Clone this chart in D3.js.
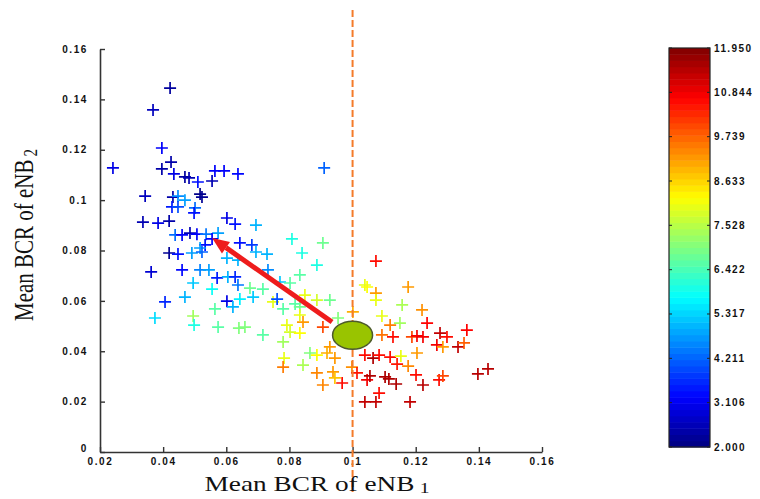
<!DOCTYPE html>
<html>
<head>
<meta charset="utf-8">
<script src="https://cdn.jsdelivr.net/npm/d3@7"></script>
<style>
  html, body { margin: 0; padding: 0; background: #ffffff; }
  svg { display: block; }
</style>
</head>
<body>
<svg id="chart" width="760" height="499"></svg>
<script>
// ---------------- data ----------------
const bcr1 = [0.0422,0.0368,0.0396,0.0241,0.0425,0.0396,0.0434,0.0469,0.0482,0.0510,0.0555,0.0564,0.0593,0.0637,0.0910,
  0.0343,0.0431,0.0447,0.0469,0.0517,0.0523,0.0428,0.0447,0.0501,0.0498,0.0336,0.0384,0.0419,0.0602,0.0628,0.0694,0.0808,
  0.0438,0.0460,0.0485,0.0507,0.0536,0.0574,0.0555,0.0533,0.0517,0.0419,0.0447,0.0491,0.0523,0.0643,0.0681,0.0694,0.0729,
  0.0602,0.0637,0.0362,0.0460,0.0517,0.0545,0.0571,0.0605,0.0628,0.0732,0.0495,0.0555,0.0637,0.0675,0.0716,0.0770,0.0802,
  0.0406,0.0469,0.0602,0.0621,0.0643,0.0685,0.0748,0.0761,0.0780,0.0818,0.0564,0.0374,0.0495,0.0498,0.0574,0.0640,0.0659,
  0.0716,0.0792,0.0802,0.0906,0.0840,0.0887,0.0833,0.0849,0.0887,0.0928,0.0833,0.0833,0.0843,0.0906,0.0954,0.1001,0.1039,
  0.0833,0.0780,0.0928,0.0865,0.0887,0.0919,0.0944,0.0783,0.0780,0.0843,0.0998,0.1014,0.1039,0.0887,0.0938,0.0944,0.0967,
  0.0906,0.1046,0.1074,0.1046,0.1074,0.1074,0.1176,0.1157,0.1220,0.1093,0.1119,0.1150,0.1236,0.1093,0.1128,0.1188,0.1204,
  0.1223,0.1277,0.1299,0.1267,0.1286,0.1334,0.1353,0.1362,0.1065,0.1084,0.1119,0.1153,0.1141,0.1204,0.1176,0.1055,0.1103,
  0.1115,0.1138,0.1201,0.1223,0.1274,0.1286,0.1397,0.1429,0.1084,0.1039,0.1074,0.1182];
const bcr2 = [0.1445,0.1358,0.1207,0.1128,0.1151,0.1124,0.1104,0.1092,0.1088,0.1072,0.1076,0.1116,0.1116,0.1104,0.1128,
  0.1016,0.1012,0.1016,0.1000,0.1024,0.1012,0.0973,0.0973,0.0969,0.0949,0.0913,0.0909,0.0917,0.0929,0.0905,0.0901,0.0846,
  0.0862,0.0862,0.0869,0.0865,0.0865,0.0869,0.0846,0.0822,0.0810,0.0790,0.0786,0.0790,0.0794,0.0830,0.0822,0.0794,0.0786,
  0.0770,0.0762,0.0715,0.0723,0.0723,0.0723,0.0691,0.0695,0.0695,0.0723,0.0671,0.0647,0.0663,0.0651,0.0647,0.0675,0.0671,
  0.0596,0.0615,0.0599,0.0576,0.0607,0.0615,0.0596,0.0607,0.0568,0.0588,0.0568,0.0532,0.0540,0.0504,0.0496,0.0492,0.0496,
  0.0465,0.0504,0.0476,0.0830,0.0790,0.0742,0.0703,0.0623,0.0603,0.0603,0.0576,0.0544,0.0516,0.0496,0.0532,0.0556,0.0663,
  0.0472,0.0437,0.0417,0.0393,0.0385,0.0393,0.0373,0.0373,0.0337,0.0345,0.0337,0.0314,0.0385,0.0314,0.0318,0.0294,0.0274,
  0.0266,0.0286,0.0758,0.0655,0.0631,0.0603,0.0655,0.0584,0.0564,0.0540,0.0504,0.0512,0.0512,0.0465,0.0457,0.0457,0.0461,
  0.0457,0.0472,0.0457,0.0425,0.0417,0.0417,0.0433,0.0484,0.0373,0.0385,0.0377,0.0381,0.0349,0.0393,0.0341,0.0302,0.0298,
  0.0290,0.0270,0.0306,0.0266,0.0286,0.0302,0.0310,0.0330,0.0234,0.0199,0.0199,0.0199];
const colourValue = [2.3,2.6,3.2,3.0,2.4,2.4,3.0,2.3,2.5,3.4,2.5,3.2,3.2,3.3,4.2,
  2.6,2.4,4.6,4.8,2.1,2.2,3.5,4.0,4.3,3.4,2.5,3.0,2.4,3.0,3.4,5.0,6.0,
  4.3,3.2,2.5,3.2,4.4,4.8,3.2,3.4,4.8,2.2,3.4,4.8,4.2,3.4,3.8,5.0,5.0,
  5.0,5.0,2.8,3.3,4.5,4.8,3.5,5.0,3.6,4.6,5.2,5.8,4.4,6.8,6.6,5.2,6.6,
  3.6,5.0,3.0,5.0,5.6,5.2,8.0,4.0,6.6,6.6,6.6,5.4,7.3,6.0,6.6,7.0,7.0,
  6.6,8.0,7.8,6.8,6.0,6.0,6.6,8.0,7.8,6.8,6.8,8.0,9.2,10.0,7.0,9.0,8.0,
  8.2,7.3,9.2,7.0,8.2,9.0,9.2,8.0,9.5,7.4,9.3,10.5,10.6,9.4,9.2,8.8,10.6,
  9.4,10.8,10.6,8.2,9.2,8.0,9.2,7.4,9.3,8.0,9.5,7.3,10.7,9.6,10.6,10.0,10.8,
  10.8,11.3,10.6,10.8,9.2,11.3,9.8,10.7,11.5,10.6,10.6,8.0,10.5,9.2,9.4,11.5,11.5,
  11.5,11.5,10.6,11.4,10.6,10.0,11.4,11.4,10.6,11.3,11.3,11.3];

const xTicks = [0.02,0.04,0.06,0.08,0.1,0.12,0.14,0.16];
const yTicks = [0,0.02,0.04,0.06,0.08,0.1,0.12,0.14,0.16];
const colourTicks = [2.000,3.106,4.211,5.317,6.422,7.528,8.633,9.739,10.844,11.950];
const colourRange = [2.0, 11.95];
const referenceBCR1 = 0.1;
const operatingPoint = [0.1, 0.0464];
const arrowFrom = [0.0935, 0.0516];
const arrowTo = [0.0555, 0.0850];
const axisTitle = "Mean BCR of eNB";

// ---------------- helpers ----------------
function jet(t) {
  t = Math.max(0, Math.min(1, t));
  const c = v => Math.round(255 * Math.max(0, Math.min(1, v)));
  return `rgb(${c(1.5 - Math.abs(4*t - 3))},${c(1.5 - Math.abs(4*t - 2))},${c(1.5 - Math.abs(4*t - 1))})`;
}

const svg = d3.select("#chart");
const x = d3.scaleLinear().domain([0.02, 0.16]).range([100, 542]);
const y = d3.scaleLinear().domain([0, 0.16]).range([452, 49]);
const cNorm = d3.scaleLinear().domain(colourRange).range([0, 1]).clamp(true);
const colour = v => jet(cNorm(v));

const tickFmt = d3.format("~g");
const axisStyle = g => {
  g.select(".domain").attr("stroke", "#333").attr("stroke-width", 1.6);
  g.selectAll(".tick line").attr("stroke", "#333").attr("stroke-width", 1.4);
  g.selectAll(".tick text")
    .attr("fill", "#111")
    .style("font-family", "'Liberation Sans', Arial, sans-serif")
    .style("font-weight", "bold")
    .style("font-size", "10px")
    .style("letter-spacing", "1.6px");
};

// ---------------- points ----------------
const pts = bcr1.map((d, i) => ({x: d, y: bcr2[i], v: colourValue[i]}));
svg.append("g").selectAll("path").data(pts).join("path")
  .attr("transform", d => `translate(${x(d.x)},${y(d.y)})`)
  .attr("d", "M-6,0H6M0,-6V6")
  .attr("stroke", d => colour(d.v))
  .attr("stroke-width", 1.7)
  .attr("fill", "none");

// ---------------- axes ----------------
svg.append("g").attr("transform", "translate(0,452)")
  .call(d3.axisBottom(x).tickValues(xTicks).tickFormat(tickFmt).tickSizeInner(-5).tickSizeOuter(0).tickPadding(6))
  .call(axisStyle);
svg.append("g").attr("transform", "translate(100,0)")
  .call(d3.axisLeft(y).tickValues(yTicks).tickFormat(tickFmt).tickSizeInner(-5).tickSizeOuter(0).tickPadding(12))
  .call(axisStyle)
  .call(g => g.selectAll(".tick").filter(d => d === 0).select("text").attr("dy", "-0.1em"));

// ---------------- reference line ----------------
svg.append("line")
  .attr("x1", x(referenceBCR1)).attr("x2", x(referenceBCR1))
  .attr("y1", 10).attr("y2", 492)
  .attr("stroke", "#f47b2a").attr("stroke-width", 2)
  .attr("stroke-dasharray", "7,3");

// ---------------- arrow ----------------
(function () {
  const x0 = x(arrowFrom[0]), y0 = y(arrowFrom[1]);
  const x1 = x(arrowTo[0]), y1 = y(arrowTo[1]);
  const ang = Math.atan2(y1 - y0, x1 - x0);
  const L = 17, W = 7;
  const bx = x1 - L * Math.cos(ang), by = y1 - L * Math.sin(ang);
  svg.append("line").attr("x1", x0).attr("y1", y0).attr("x2", bx).attr("y2", by)
    .attr("stroke", "#ee1c1c").attr("stroke-width", 5).attr("stroke-linecap", "butt");
  const px = -Math.sin(ang), py = Math.cos(ang);
  svg.append("path")
    .attr("d", `M${x1},${y1}L${bx + W*px},${by + W*py}L${bx - W*px},${by - W*py}Z`)
    .attr("fill", "#ee1c1c");
})();

// ---------------- operating point ----------------
svg.append("ellipse")
  .attr("cx", x(operatingPoint[0])).attr("cy", y(operatingPoint[1]))
  .attr("rx", 20).attr("ry", 14)
  .attr("fill", "#99c400").attr("stroke", "#4d5a2c").attr("stroke-width", 1.5);

// ---------------- axis titles ----------------
const serif = "'Liberation Serif', 'Times New Roman', serif";
const xt = svg.append("text")
  .attr("transform", "translate(317,491) scale(1.3,1)")
  .attr("text-anchor", "middle")
  .style("font-family", serif).style("font-size", "21px").attr("fill", "#111");
xt.append("tspan").text(axisTitle);
xt.append("tspan").attr("dx", 4).attr("dy", 2).style("font-size", "15px").text("1");

const yt = svg.append("text")
  .attr("transform", "translate(33,235) scale(1.3,1) rotate(-90)")
  .attr("text-anchor", "middle")
  .style("font-family", serif).style("font-size", "21px").attr("fill", "#111");
yt.append("tspan").text(axisTitle);
yt.append("tspan").attr("dx", 3).attr("dy", 3).style("font-size", "15px").text("2");

// ---------------- colour bar ----------------
const cbX = 669, cbW = 41;
const cy = d3.scaleLinear().domain(colourRange).range([447, 48]);
const nBands = 64;
const bands = d3.range(nBands).map(i => colourRange[0] + (colourRange[1] - colourRange[0]) * i / nBands);
const step = (colourRange[1] - colourRange[0]) / nBands;
svg.append("g").selectAll("rect").data(bands).join("rect")
  .attr("x", cbX).attr("width", cbW)
  .attr("y", d => cy(d + step))
  .attr("height", d => cy(d) - cy(d + step) + 0.5)
  .attr("fill", d => colour(d + step / 2));
svg.append("rect").attr("x", cbX).attr("y", cy(colourRange[1])).attr("width", cbW)
  .attr("height", cy(colourRange[0]) - cy(colourRange[1]))
  .attr("fill", "none").attr("stroke", "#222").attr("stroke-width", 1.2);
const cbTicks = svg.append("g");
colourTicks.forEach(t => {
  const yy = cy(t);
  cbTicks.append("line").attr("x1", cbX).attr("x2", cbX + 3).attr("y1", yy).attr("y2", yy).attr("stroke", "#222");
  cbTicks.append("line").attr("x1", cbX + cbW - 3).attr("x2", cbX + cbW).attr("y1", yy).attr("y2", yy).attr("stroke", "#222");
  cbTicks.append("text").attr("x", 714).attr("y", yy).attr("dy", "0.35em")
    .style("font-family", "'Liberation Sans', Arial, sans-serif")
    .style("font-weight", "bold").style("font-size", "10px").style("letter-spacing", "1.4px")
    .attr("fill", "#111")
    .text(d3.format(".3f")(t));
});
</script>
</body>
</html>
